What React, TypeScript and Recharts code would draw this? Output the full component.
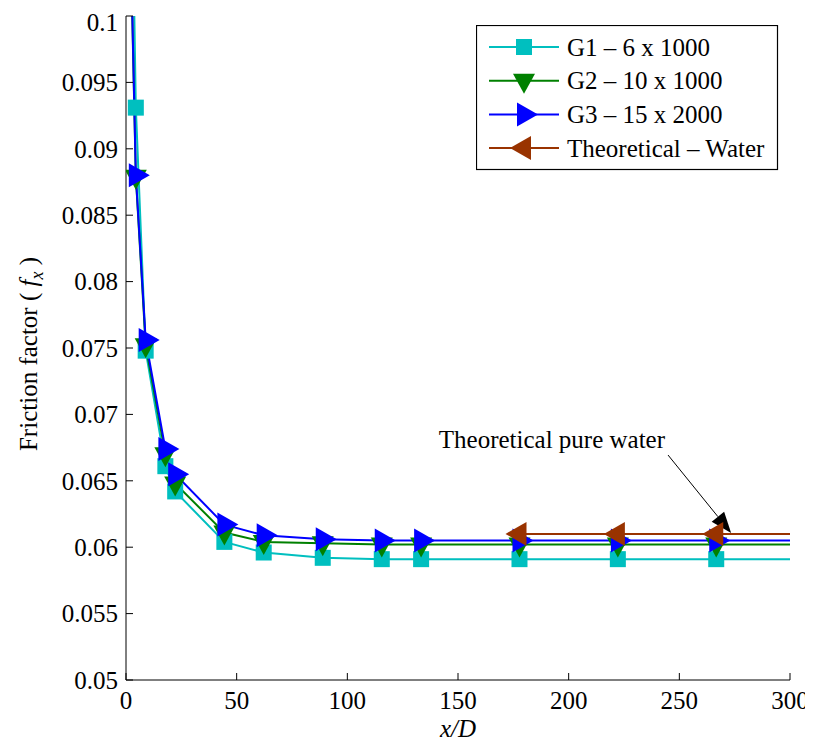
import React from "react";
import {
  LineChart,
  Line,
  XAxis,
  YAxis,
  Legend,
  ReferenceLine,
  Label,
} from "recharts";

// x/D stations and friction factor per grid
const xD = [0, 4.44, 8.89, 17.78, 22.22, 44.44, 62.22, 88.89, 115.56, 133.33, 177.78, 222.22, 266.67, 311.11];
const g1 = [0.138, 0.0931, 0.0748, 0.0661, 0.0642, 0.0604, 0.0596, 0.0592, 0.0591, 0.0591, 0.0591, 0.0591, 0.0591, 0.0591];
const g2 = [0.121, 0.0879, 0.0752, 0.067, 0.0648, 0.0611, 0.0604, 0.0603, 0.0602, 0.0602, 0.0602, 0.0602, 0.0602, 0.0602];
const g3 = [0.122, 0.088, 0.0756, 0.0674, 0.0655, 0.0617, 0.0609, 0.0606, 0.0605, 0.0605, 0.0605, 0.0605, 0.0605, 0.0605];
const theory = [null, null, null, null, null, null, null, null, null, null, 0.061, 0.061, 0.061, 0.061];

const xTicks = [0, 50, 100, 150, 200, 250, 300];
const yTicks = [0.05, 0.055, 0.06, 0.065, 0.07, 0.075, 0.08, 0.085, 0.09, 0.095, 0.1];

const seriesNames = ["G1 – 6 x 1000", "G2 – 10 x 1000", "G3 – 15 x 2000", "Theoretical – Water"];
const seriesKeys = ["g1", "g2", "g3", "th"];
const seriesColors = ["#00bfbf", "#008000", "#0000ff", "#993300"];
const seriesShapes = ["square", "down", "right", "left"];

const arrowFrom = { x: 244.9, y: 0.06694 };
const arrowTo = { x: 273.4, y: 0.06107 };

const data = xD.map((x, i) => ({ x, g1: g1[i], g2: g2[i], g3: g3[i], th: theory[i] }));

const FONT = "Times New Roman, Times, Liberation Serif, Tinos, Nimbus Roman, DejaVu Serif, serif";
const serif = { fontFamily: FONT };

function marker(shape: string, cx: number, cy: number, color: string, key?: string) {
  if (shape === "square")
    return <rect key={key} x={cx - 8} y={cy - 8} width={16} height={16} fill={color} />;
  let pts = "";
  if (shape === "down") pts = `${cx - 11},${cy - 7} ${cx + 11},${cy - 7} ${cx},${cy + 13}`;
  if (shape === "right") pts = `${cx - 7},${cy - 12} ${cx - 7},${cy + 12} ${cx + 14},${cy}`;
  if (shape === "left") pts = `${cx + 7},${cy - 12} ${cx + 7},${cy + 12} ${cx - 14},${cy}`;
  return <polygon key={key} points={pts} fill={color} />;
}

const makeDot = (shape: string, color: string) => (props: any) => {
  const { cx, cy, payload, value, index } = props;
  const k = `dot-${shape}-${index}`;
  if (value == null || payload.x > 300 || value > 0.1 || cx == null) return <g key={k} />;
  return marker(shape, cx, cy, color, k);
};

const LegendBox = () => (
  <svg width={303} height={146} style={{ display: "block" }}>
    <rect x={0.5} y={0.5} width={301} height={144} fill="#fff" stroke="#000" strokeWidth={1.2} />
    {seriesNames.map((name, i) => {
      const cy = 22 + i * 33.7;
      return (
        <g key={name}>
          <line x1={13} x2={83} y1={cy} y2={cy} stroke={seriesColors[i]} strokeWidth={2} />
          {marker(seriesShapes[i], 48, cy, seriesColors[i])}
          <text x={91} y={cy + 8.5} fontFamily={FONT} fontSize={25} fill="#000">
            {name}
          </text>
        </g>
      );
    })}
  </svg>
);

const ArrowShape = (props: any) => {
  const { x1, y1, x2, y2 } = props;
  const ang = Math.atan2(y2 - y1, x2 - x1);
  const len = 21;
  const hw = 8;
  const bx = x2 - len * Math.cos(ang);
  const by = y2 - len * Math.sin(ang);
  const px = -Math.sin(ang) * hw;
  const py = Math.cos(ang) * hw;
  return (
    <g>
      <line x1={x1} y1={y1} x2={bx} y2={by} stroke="#000" strokeWidth={1} />
      <polygon points={`${x2},${y2} ${bx + px},${by + py} ${bx - px},${by - py}`} fill="#000" />
      <text x={x1 - 3} y={y1 - 7} textAnchor="end" fontFamily={FONT} fontSize={25} fill="#000">
        Theoretical pure water
      </text>
    </g>
  );
};

const YLabel = (props: any) => {
  const vb = props.viewBox;
  const cx = 29;
  const cy = vb.y + vb.height / 2 + 6;
  return (
    <text
      x={cx}
      y={cy}
      textAnchor="middle"
      transform={`rotate(-90, ${cx}, ${cy})`}
      fontFamily={FONT}
      fontSize={25}
      fill="#000"
    >
      Friction factor (
      <tspan fontStyle="italic"> f</tspan>
      <tspan fontStyle="italic" fontSize={18} dy={6}>x</tspan>
      <tspan dy={-6}> )</tspan>
    </text>
  );
};

const XLabel = (props: any) => {
  const vb = props.viewBox;
  return (
    <text
      x={vb.x + vb.width / 2}
      y={vb.y + vb.height - 6}
      textAnchor="middle"
      fontFamily={FONT}
      fontStyle="italic"
      fontSize={25}
      fill="#000"
    >
      x/D
    </text>
  );
};

const noTick = () => <g />;
const tickStyle = { fontSize: 25, fill: "#000", fontFamily: FONT };

export default function App() {
  return (
    <div style={serif}>
      <LineChart
        width={805}
        height={735}
        data={data}
        margin={{ top: 8, right: 23, bottom: 0, left: 0 }}
        style={serif}
      >
        <XAxis
          dataKey="x"
          type="number"
          domain={[0, 300]}
          allowDataOverflow
          ticks={xTicks}
          height={63}
          tickSize={-7}
          tickMargin={18}
          stroke="#000"
          tick={tickStyle}
        >
          <Label content={XLabel} />
        </XAxis>
        <XAxis
          xAxisId="top"
          orientation="top"
          type="number"
          domain={[0, 300]}
          ticks={xTicks}
          height={0}
          tickSize={-7}
          stroke="#000"
          tick={noTick}
        />
        <YAxis
          type="number"
          domain={[0.05, 0.1]}
          allowDataOverflow
          ticks={yTicks}
          width={118}
          tickSize={-7}
          tickMargin={15}
          stroke="#000"
          tick={tickStyle}
          tickFormatter={(v: number) => String(+v.toFixed(3))}
        >
          <Label content={YLabel} />
        </YAxis>
        <YAxis
          yAxisId="right"
          orientation="right"
          type="number"
          domain={[0.05, 0.1]}
          ticks={yTicks}
          width={0}
          tickSize={-7}
          stroke="#000"
          tick={noTick}
        />
        {seriesKeys.map((k, i) => (
          <Line
            key={k}
            dataKey={k}
            name={seriesNames[i]}
            type="linear"
            stroke={seriesColors[i]}
            strokeWidth={2}
            dot={makeDot(seriesShapes[i], seriesColors[i])}
            activeDot={false}
            connectNulls={false}
            isAnimationActive={false}
          />
        ))}
        <ReferenceLine segment={[arrowFrom, arrowTo]} shape={ArrowShape} ifOverflow="visible" />
        <Legend
          layout="vertical"
          align="center"
          verticalAlign="middle"
          content={LegendBox}
          wrapperStyle={{ position: "absolute", left: 468, top: 17, width: 303, height: 146 }}
        />
      </LineChart>
    </div>
  );
}
